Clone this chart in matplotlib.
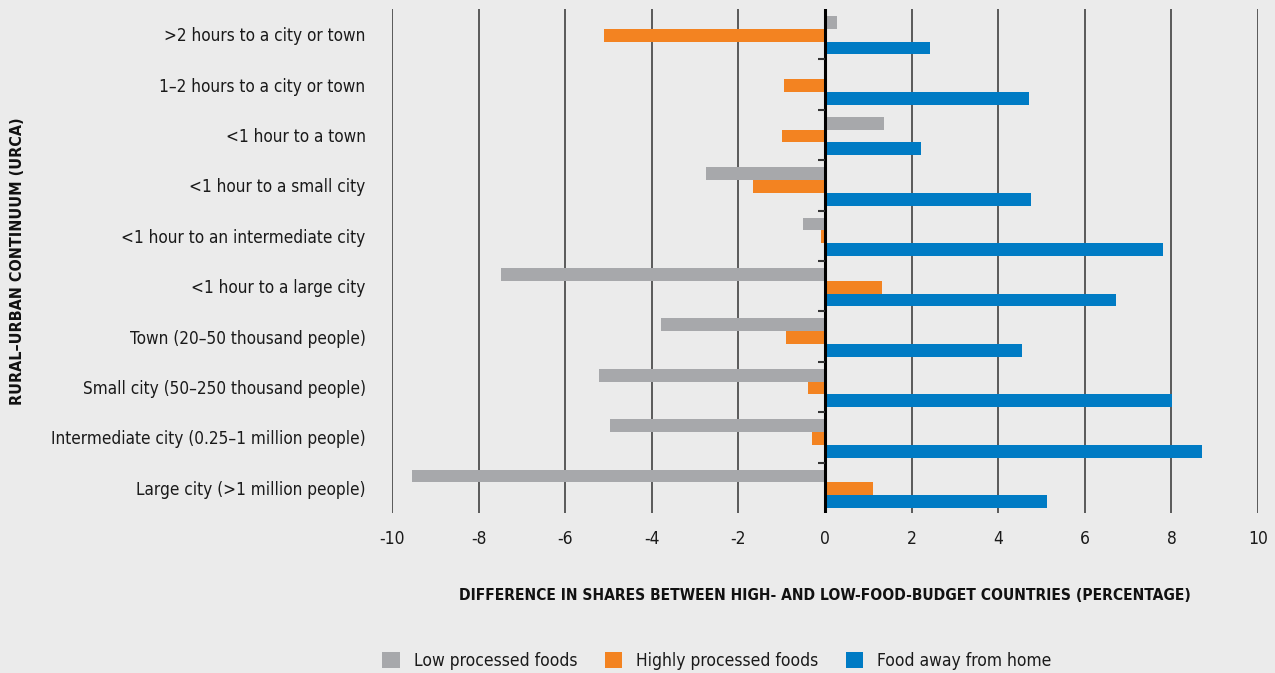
import numpy as np
import matplotlib
matplotlib.use('Agg')
import matplotlib.pyplot as plt
from matplotlib.patches import Patch

plt.rcParams['font.family'] = ['DejaVu Sans']
plt.rcParams['font.stretch'] = 'condensed'

# 데이터
categories = [
    '>2 hours to a city or town',
    '1\u20132 hours to a city or town',
    '<1 hour to a town',
    '<1 hour to a small city',
    '<1 hour to an intermediate city',
    '<1 hour to a large city',
    'Town (20\u201350 thousand people)',
    'Small city (50\u2013250 thousand people)',
    'Intermediate city (0.25\u20131 million people)',
    'Large city (>1 million people)',
]
low_processed = [0.28, 0.03, 1.36, -2.75, -0.51, -7.48, -3.79, -5.22, -4.97, -9.54]
highly_processed = [-5.1, -0.95, -0.99, -1.66, -0.09, 1.32, -0.9, -0.39, -0.3, 1.11]
away_from_home = [2.42, 4.71, 2.22, 4.76, 7.8, 6.72, 4.55, 8.01, 8.71, 5.13]
series_names = ['Low processed foods', 'Highly processed foods', 'Food away from home']
xticks = list(range(-10, 11, 2))

# 색상
colors = ['#a7a8ab', '#f38321', '#007bc4']
bg = '#ebebeb'

fig = plt.figure(figsize=(12.75, 6.73), dpi=100, facecolor=bg)
ax = fig.add_axes([392 / 1275, 1 - 513 / 673, 866 / 1275, 504 / 673], facecolor=bg)

y = np.arange(len(categories))
h = 0.255
for i, vals in enumerate([low_processed, highly_processed, away_from_home]):
    ax.barh(y + (i - 1) * h + 0.02, vals, height=h, color=colors[i], zorder=3)

ax.set_xlim(-10, 10)
ax.set_ylim(len(categories) - 0.5, -0.5)

# 세로 격자선
for xv in xticks:
    if xv == 0:
        continue
    ax.axvline(xv, color='#5a5a5a', linewidth=1.4, zorder=1)
ax.axvline(0, color='black', linewidth=2.2, zorder=4)

# 범주 경계 눈금 (0 선 위)
bounds = np.arange(len(categories) - 1) + 0.5
ax.hlines(bounds, -0.17, 0, color='#333333', linewidth=1.5, zorder=4)

for s in ax.spines.values():
    s.set_visible(False)

ax.set_xticks(xticks)
ax.set_xticklabels([str(v) for v in xticks], fontsize=12.5, color='#1a1a1a')
ax.tick_params(axis='x', length=0, pad=12)
ax.set_yticks(y)
ax.set_yticklabels(categories, fontsize=12.3, color='#1a1a1a')
ax.tick_params(axis='y', length=0, pad=19)

fig.text(825 / 1275, 1 - 595 / 673,
         'DIFFERENCE IN SHARES BETWEEN HIGH- AND LOW-FOOD-BUDGET COUNTRIES (PERCENTAGE)',
         ha='center', va='center', fontsize=11.2, fontweight='bold', color='#111111')
fig.text(18 / 1275, 1 - 261 / 673, 'RURAL\u2013URBAN CONTINUUM (URCA)',
         ha='center', va='center', rotation=90, fontsize=11.5, fontweight='bold', color='#111111')

handles = [Patch(facecolor=c, edgecolor='none') for c in colors]
fig.legend(handles, series_names, loc='center', bbox_to_anchor=(717 / 1275, 1 - 661 / 673),
           ncol=3, frameon=False, fontsize=12.5, handlelength=1.0, handleheight=1.0,
           columnspacing=1.6, handletextpad=0.8, labelcolor='#1a1a1a')

fig.savefig('out.png', dpi=100, facecolor=bg)
